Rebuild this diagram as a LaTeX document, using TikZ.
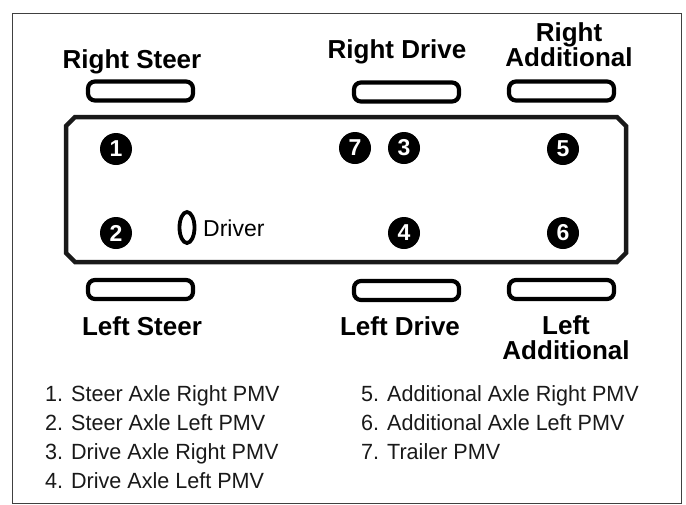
\documentclass[tikz,border=0pt]{standalone}
\usepackage{fontspec}
\setmainfont{Liberation Sans}
\begin{document}
\begin{tikzpicture}[x=1pt,y=-1pt,
  tire/.style={draw=black,line width=4.2pt,rounded corners=7pt,minimum width=105pt,minimum height=19pt,inner sep=0pt},
  num/.style={circle,fill=black,text=white,minimum size=32pt,inner sep=0pt,font=\fontsize{23}{23}\selectfont\bfseries},
  lbl/.style={font=\fontsize{26}{25}\selectfont\bfseries,align=center,inner sep=0pt},
  leg/.style={anchor=base west,font=\fontsize{22}{22}\selectfont\addfontfeature{FakeStretch=0.98},inner sep=0pt,text=black!90}]
\useasboundingbox (0,0) rectangle (686,504);
\draw[line width=1.4pt,black!75] (12.5,13.5) rectangle (681.5,503.5);
% vehicle body
\draw[line width=4.5pt,black!90,line join=miter] (75,117) -- (617,117) -- (626,126) -- (626,253) -- (617,262) -- (75,262) -- (66,253) -- (66,126) -- cycle;
% tires
\node[tire] (trs) at (140.5,91) {};
\node[tire] (trd) at (406.5,92) {};
\node[tire] (tra) at (561.5,91) {};
\node[tire] (tls) at (140.5,289.5) {};
\node[tire] (tld) at (406.5,290.5) {};
\node[tire] (tla) at (561.5,289.5) {};
% labels
\node[lbl] (lrs) at (132,62) {Right Steer};
\node[lbl] (lrd) at (397,52) {Right Drive};
\node[lbl] (lra) at (569,45) {Right\\Additional};
\node[lbl] (lls) at (142,326) {Left Steer};
\node[lbl] (lld) at (400,326) {Left Drive};
\node[lbl] (lla) at (566,338) {Left\\Additional};
% numbers
\node[num] (n1) at (116,149) {1};
\node[num] (n2) at (116,233) {2};
\node[num] (n7) at (355,148) {7};
\node[num] (n3) at (404,148) {3};
\node[num] (n5) at (563,149) {5};
\node[num] (n4) at (404,233) {4};
\node[num] (n6) at (563,233) {6};
% driver
\draw[line width=3.8pt] (187,227.5) ellipse (7.5pt and 15.5pt);
\node[anchor=base west,font=\fontsize{23}{23}\selectfont,inner sep=0pt] (drv) at (203,236) {Driver};
% legend
\node[leg] (l1) at (45,401) {1. Steer Axle Right PMV};
\node[leg] (l2) at (45,430) {2. Steer Axle Left PMV};
\node[leg] (l3) at (45,459) {3. Drive Axle Right PMV};
\node[leg] (l4) at (45,488) {4. Drive Axle Left PMV};
\node[leg] (l5) at (361,401) {5. Additional Axle Right PMV};
\node[leg] (l6) at (361,430) {6. Additional Axle Left PMV};
\node[leg] (l7) at (361,459) {7. Trailer PMV};
\end{tikzpicture}
\end{document}
